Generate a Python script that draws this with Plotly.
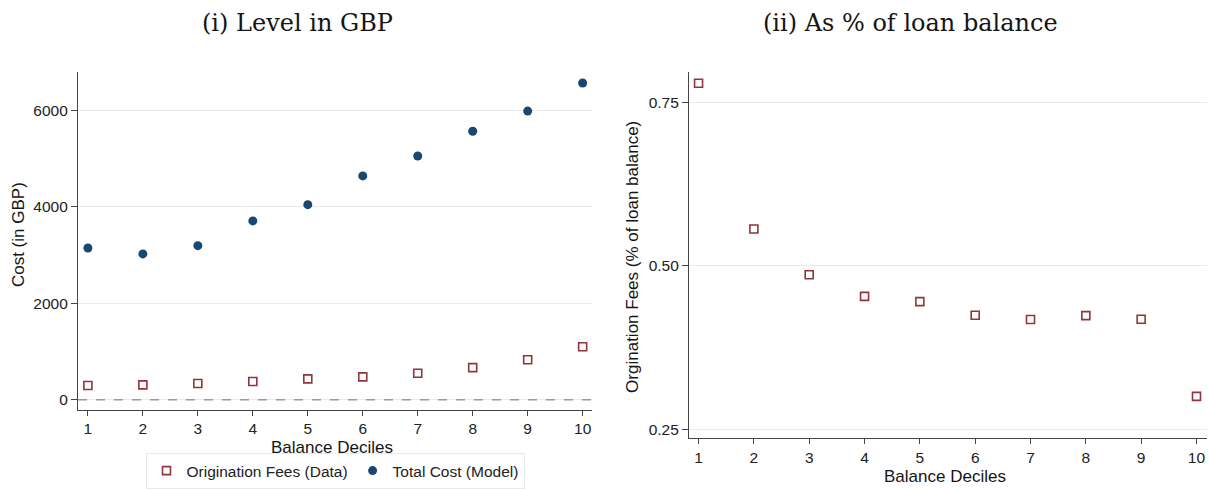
import plotly.graph_objects as go

deciles = [1, 2, 3, 4, 5, 6, 7, 8, 9, 10]
orig_fees_gbp = [295, 308, 336, 377, 432, 473, 548, 664, 829, 1096]
total_cost_gbp = [3144, 3021, 3192, 3705, 4041, 4637, 5048, 5562, 5979, 6562]
orig_fees_pct = [0.779, 0.556, 0.486, 0.453, 0.445, 0.424, 0.4175, 0.4236, 0.418, 0.300]

left_yticks = [0, 2000, 4000, 6000]
right_yticks = [0.25, 0.50, 0.75]
right_yticklabels = ["0.25", "0.50", "0.75"]

W, H = 1209, 489
maroon = "#90353b"
navy = "#1a476f"
axis_col = "#444444"
grid_col = "#eaeaea"
sans = "Liberation Sans, Arial"
tick_font = dict(family=sans, size=15.5, color="#222222")

fig = go.Figure()

fig.add_trace(go.Scatter(
    x=deciles, y=orig_fees_gbp, mode="markers", name="Origination Fees (Data)",
    marker=dict(symbol="square-open", size=8, color=maroon, line=dict(width=1.6, color=maroon)),
    xaxis="x", yaxis="y", showlegend=True))
fig.add_trace(go.Scatter(
    x=deciles, y=total_cost_gbp, mode="markers", name="Total Cost (Model)",
    marker=dict(symbol="circle", size=9, color=navy),
    xaxis="x", yaxis="y", showlegend=True))
fig.add_trace(go.Scatter(
    x=deciles, y=orig_fees_pct, mode="markers", name="Origination Fees (pct)",
    marker=dict(symbol="square-open", size=8, color=maroon, line=dict(width=1.6, color=maroon)),
    xaxis="x2", yaxis="y2", showlegend=False))

def px_x(p):
    return p / W

def px_y(p):
    return 1 - p / H

common_x = dict(tickmode="array", tickvals=deciles, ticktext=[str(d) for d in deciles],
                showline=True, linecolor=axis_col, linewidth=1.2, ticks="outside",
                ticklen=5, tickcolor=axis_col, showgrid=False, zeroline=False,
                tickfont=tick_font)
common_y = dict(showline=True, linecolor=axis_col, linewidth=1.2, ticks="outside",
                ticklen=6, tickcolor=axis_col, showgrid=True, gridcolor=grid_col,
                gridwidth=1, zeroline=False, tickfont=tick_font)

def ann(text, x, y, size, family=sans, angle=0):
    return dict(text=text, x=px_x(x), y=px_y(y), xref="paper", yref="paper",
                xanchor="center", yanchor="middle", textangle=angle, showarrow=False,
                font=dict(family=family, size=size, color="#151515"))

serif = "DejaVu Serif, Liberation Serif"

fig.update_layout(
    width=W, height=H,
    margin=dict(l=0, r=0, t=0, b=0),
    paper_bgcolor="white", plot_bgcolor="white",
    xaxis=dict(domain=[px_x(78), px_x(592)], range=[0.82, 10.17], anchor="y", **common_x),
    yaxis=dict(domain=[px_y(413), px_y(73)], range=[-205, 6781], anchor="x",
               tickvals=left_yticks, ticktext=[str(v) for v in left_yticks], **common_y),
    xaxis2=dict(domain=[px_x(689), px_x(1207)], range=[0.827, 10.19], anchor="y2", **common_x),
    yaxis2=dict(domain=[px_y(442), px_y(73)], range=[0.2358, 0.7955], anchor="x2",
                tickvals=right_yticks, ticktext=right_yticklabels, **common_y),
    legend=dict(orientation="h", x=px_x(335), xanchor="center", y=px_y(475), yanchor="middle",
                bordercolor="#e4ebef", borderwidth=1, bgcolor="white",
                font=dict(family=sans, size=15.5, color="#222222"),
                itemwidth=30, tracegroupgap=0),
    shapes=[dict(type="line", xref="x domain", yref="y", x0=0, x1=1, y0=0, y1=0,
                 line=dict(color="#9a9a9a", width=1.5, dash="dash"))],
    annotations=[
        ann("(i) Level in GBP", 297, 23, 24, family=serif),
        ann("(ii) As % of loan balance", 910, 23, 24, family=serif),
        ann("Cost (in GBP)", 18, 237, 17, angle=-90),
        ann("Balance Deciles", 332, 451, 17),
        ann("Orgination Fees (% of loan balance)", 633, 259, 17, angle=-90),
        ann("Balance Deciles", 945, 480, 17),
    ],
)

fig.write_html("out.html")
